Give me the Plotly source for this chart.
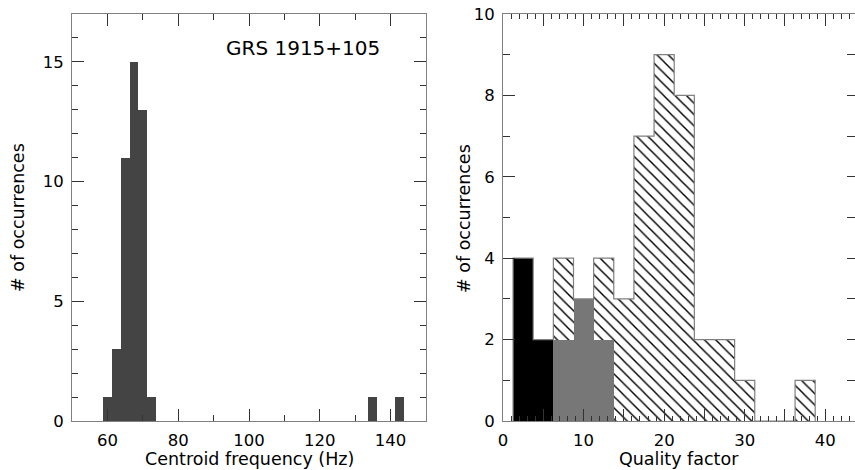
import plotly.graph_objects as go

# ---- Left panel data: centroid frequency histogram ----
freq_centers = [60, 62.5, 65, 67.5, 70, 72.5, 135, 142.5]
freq_counts = [1, 3, 11, 15, 13, 1, 1, 1]

# ---- Right panel data: quality factor histograms ----
q_centers = [2.5, 5, 7.5, 10, 12.5, 15, 17.5, 20, 22.5, 25, 27.5, 30, 32.5, 35, 37.5]
q_total = [4, 2, 4, 3, 4, 3, 7, 9, 8, 2, 2, 1, 0, 0, 1]
q_black_centers = [2.5, 5]
q_black_counts = [4, 2]
q_gray_centers = [7.5, 10, 12.5]
q_gray_counts = [2, 3, 2]

BIN = 2.5
FONT = "DejaVu Sans"
W, H = 855, 470

def px_x(p):
    return p / W

def px_y(p):
    return (H - p) / H

fig = go.Figure()

fig.add_trace(go.Bar(x=freq_centers, y=freq_counts, width=BIN,
                     marker=dict(color="#444444", line=dict(width=0)),
                     xaxis="x", yaxis="y", showlegend=False))

fig.add_trace(go.Bar(x=q_centers, y=q_total, width=BIN,
                     marker=dict(color="white", line=dict(width=0),
                                 pattern=dict(shape="\\", fgcolor="#000000", bgcolor="white",
                                              size=8, solidity=0.18)),
                     xaxis="x2", yaxis="y2", showlegend=False))
fig.add_trace(go.Bar(x=q_black_centers, y=q_black_counts, width=BIN,
                     marker=dict(color="black", line=dict(width=0)),
                     xaxis="x2", yaxis="y2", showlegend=False))
fig.add_trace(go.Bar(x=q_gray_centers, y=q_gray_counts, width=BIN,
                     marker=dict(color="#777777", line=dict(width=0)),
                     xaxis="x2", yaxis="y2", showlegend=False))

edges = [c - BIN / 2 for c in q_centers]
step_x = [edges[0]] + edges + [edges[-1] + BIN]
step_y = [0] + q_total + [0]
fig.add_trace(go.Scatter(x=step_x, y=step_y, mode="lines", line_shape="hv",
                         line=dict(color="#808080", width=1.2),
                         xaxis="x2", yaxis="y2", showlegend=False, hoverinfo="skip"))
# invisible trace to carry the right-hand tick axis
fig.add_trace(go.Scatter(x=[0], y=[0], mode="markers", marker=dict(opacity=0),
                         xaxis="x2", yaxis="y3", showlegend=False, hoverinfo="skip"))

tickfont = dict(family=FONT, size=16.5, color="black")
axis_common = dict(showgrid=False, zeroline=False, ticks="inside", tickwidth=1,
                   tickcolor="#333333", linecolor="#808080", linewidth=1, showline=True,
                   tickfont=tickfont, automargin=False)

ydom = [px_y(421), px_y(14)]

fig.update_layout(
    template="none",
    width=W, height=H,
    margin=dict(l=0, r=0, t=0, b=0, pad=0),
    paper_bgcolor="white", plot_bgcolor="white",
    barmode="overlay", bargap=0,
    xaxis=dict(domain=[px_x(72), px_x(426)], range=[50, 150], anchor="y",
               tick0=0, dtick=20, ticklen=12, mirror="ticks",
               minor=dict(dtick=10, ticklen=6, tickcolor="#333333", ticks="inside"),
               ticklabelstandoff=4, **axis_common),
    yaxis=dict(domain=ydom, range=[0, 17], anchor="x",
               tick0=0, dtick=5, ticklen=12, mirror="ticks",
               minor=dict(dtick=1, ticklen=6, tickcolor="#333333", ticks="inside"),
               ticklabelstandoff=4, **axis_common),
    xaxis2=dict(domain=[px_x(503), 1.0], range=[0, 43.69], anchor="y2",
                tickvals=[0, 5, 10, 15, 20, 25, 30, 35, 40],
                ticktext=["0", "", "10", "", "20", "", "30", "", "40"],
                ticklen=12, mirror="ticks",
                minor=dict(dtick=1, ticklen=5, tickcolor="#333333", ticks="inside"),
                ticklabelstandoff=4, **axis_common),
    yaxis2=dict(domain=ydom, range=[0, 10], anchor="x2",
                tick0=0, dtick=2, ticklen=12, mirror=False,
                minor=dict(dtick=1, ticklen=7, tickcolor="#333333", ticks="inside"),
                ticklabelstandoff=4, **axis_common),
    yaxis3=dict(overlaying="y2", side="right", range=[0, 10], anchor="x2",
                showgrid=False, zeroline=False, showline=False, showticklabels=False,
                ticks="inside", dtick=1, ticklen=8, tickcolor="#333333", tickwidth=1,
                automargin=False),
)

title_font = dict(family=FONT, size=17.5, color="black")
fig.add_annotation(x=115.3, y=15.6, xref="x", yref="y", text="GRS 1915+105",
                   showarrow=False, font=dict(family=FONT, size=20, color="black"),
                   xanchor="center", yanchor="middle")
fig.add_annotation(x=px_x(249), y=px_y(459), xref="paper", yref="paper",
                   text="Centroid frequency (Hz)", showarrow=False, font=title_font,
                   xanchor="center", yanchor="middle", borderpad=0)
fig.add_annotation(x=px_x(679), y=px_y(459), xref="paper", yref="paper",
                   text="Quality factor", showarrow=False, font=title_font,
                   xanchor="center", yanchor="middle", borderpad=0)
fig.add_annotation(x=px_x(18), y=px_y(218), xref="paper", yref="paper",
                   text="# of occurrences", showarrow=False, font=title_font,
                   textangle=-90, xanchor="center", yanchor="middle")
fig.add_annotation(x=px_x(464), y=px_y(218), xref="paper", yref="paper",
                   text="# of occurrences", showarrow=False, font=title_font,
                   textangle=-90, xanchor="center", yanchor="middle")

fig.write_html("out.html")
